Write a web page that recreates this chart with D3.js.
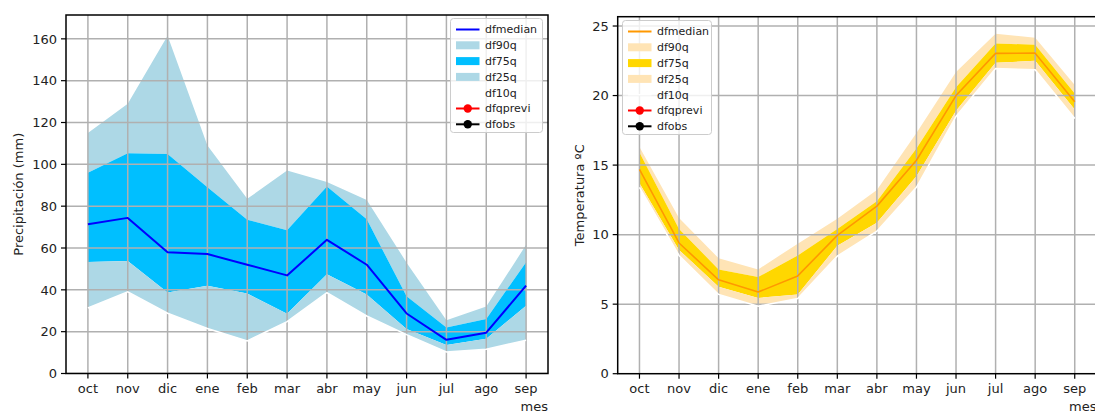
<!DOCTYPE html>
<html>
<head>
<meta charset="utf-8">
<script src="https://cdn.jsdelivr.net/npm/d3@7"></script>
<style>
  html, body { margin: 0; padding: 0; background: #fff; }
  svg { display: block; font-family: "DejaVu Sans", sans-serif; }
</style>
</head>
<body>
<svg id="chart" width="1095" height="412"></svg>
<script>
// ---- data ----
const months = ["oct","nov","dic","ene","feb","mar","abr","may","jun","jul","ago","sep"];

const precipP90    = [115, 129, 161.5, 109, 83.5, 97, 91.5, 83, 53, 25.5, 32, 61.5];
const precipP75    = [96, 105.3, 105, 89, 73.5, 68.5, 89.4, 73.7, 36.9, 22, 26.1, 53.2];
const precipMedian = [71.4, 74.4, 58, 57.1, 52, 46.9, 63.9, 52, 28.7, 16.1, 19.5, 42];
const precipP25    = [53.3, 53.8, 38.7, 42, 38.2, 28.6, 47.4, 37.8, 21.3, 13.6, 16.6, 32.4];
const precipP10    = [31.3, 39, 28.8, 21.5, 15.6, 24.8, 38.6, 27.5, 18.6, 10.3, 11.6, 15.9];
const precipTicks  = [0, 20, 40, 60, 80, 100, 120, 140, 160];

const tempP90    = [16.3, 11.2, 8.3, 7.5, 9.35, 11.15, 13.2, 17.3, 21.7, 24.45, 24.15, 20.75];
const tempP75    = [15.9, 10.4, 7.5, 6.95, 8.5, 10.4, 12.4, 16.2, 20.6, 23.75, 23.65, 20.15];
const tempMedian = [14.7, 9.4, 6.75, 5.87, 7.03, 9.95, 12.05, 15.35, 20.0, 23.03, 23.05, 19.55];
const tempP25    = [13.7, 8.9, 6.25, 5.45, 5.7, 9.2, 10.85, 14.2, 18.9, 22.35, 22.5, 19.0];
const tempP10    = [13.4, 8.5, 5.7, 4.85, 5.4, 8.45, 10.25, 13.4, 18.5, 21.95, 21.85, 18.35];
const tempTicks  = [0, 5, 10, 15, 20, 25];

const legendLabels = ["dfmedian","df90q","df75q","df25q","df10q","dfqprevi","dfobs"];

// ---- drawing ----
const svg = d3.select("#chart");

function drawPanel(cfg) {
  const g = svg.append("g");
  const x = d3.scaleLinear().domain([-0.55, 11.55]).range([cfg.left, cfg.right]);
  const y = d3.scaleLinear().domain([0, cfg.ymax]).range([cfg.bottom, cfg.top]);
  const idx = d3.range(months.length);

  const band = (lo, hi) => d3.area().x(i => x(i)).y0(i => y(lo[i])).y1(i => y(hi[i]))(idx);
  const line = arr => d3.line().x(i => x(i)).y(i => y(arr[i]))(idx);

  const clipId = "clip" + cfg.id;
  g.append("clipPath").attr("id", clipId).append("rect")
    .attr("x", cfg.left).attr("y", cfg.top)
    .attr("width", cfg.right - cfg.left).attr("height", cfg.bottom - cfg.top);
  const plot = g.append("g").attr("clip-path", `url(#${clipId})`);

  // fills
  plot.append("path").attr("d", band(cfg.p75, cfg.p90)).attr("fill", cfg.outer);
  plot.append("path").attr("d", band(cfg.p25, cfg.p75)).attr("fill", cfg.inner);
  plot.append("path").attr("d", band(cfg.p10, cfg.p25)).attr("fill", cfg.outer);

  // grid
  plot.selectAll(".vg").data(idx).enter().append("line")
    .attr("x1", i => x(i)).attr("x2", i => x(i))
    .attr("y1", cfg.top).attr("y2", cfg.bottom)
    .attr("stroke", "#b0b0b0").attr("stroke-width", 1.5);
  plot.selectAll(".hg").data(cfg.ticks).enter().append("line")
    .attr("x1", cfg.left).attr("x2", cfg.right)
    .attr("y1", d => y(d)).attr("y2", d => y(d))
    .attr("stroke", "#b0b0b0").attr("stroke-width", 1.5);

  // lines
  plot.append("path").attr("d", line(cfg.p10)).attr("fill", "none")
    .attr("stroke", "#ffffff").attr("stroke-width", 1.5);
  plot.append("path").attr("d", line(cfg.median)).attr("fill", "none")
    .attr("stroke", cfg.lineColor).attr("stroke-width", cfg.lineWidth)
    .attr("stroke-linejoin", "round");

  // frame
  g.append("rect").attr("x", cfg.left).attr("y", cfg.top)
    .attr("width", cfg.right - cfg.left).attr("height", cfg.bottom - cfg.top)
    .attr("fill", "none").attr("stroke", "#000").attr("stroke-width", 1.5);

  // x ticks
  idx.forEach(i => {
    g.append("line").attr("x1", x(i)).attr("x2", x(i))
      .attr("y1", cfg.bottom).attr("y2", cfg.bottom + 5)
      .attr("stroke", "#000").attr("stroke-width", 1.2);
    g.append("text").attr("x", x(i)).attr("y", cfg.bottom + 19.5)
      .attr("text-anchor", "middle").attr("font-size", 13).attr("fill", "#222")
      .text(months[i]);
  });
  // y ticks
  cfg.ticks.forEach(t => {
    g.append("line").attr("x1", cfg.left - 5).attr("x2", cfg.left)
      .attr("y1", y(t)).attr("y2", y(t))
      .attr("stroke", "#000").attr("stroke-width", 1.2);
    g.append("text").attr("x", cfg.left - 9).attr("y", y(t)).attr("dy", "0.36em")
      .attr("text-anchor", "end").attr("font-size", 13).attr("fill", "#222")
      .text(t);
  });

  // axis labels
  g.append("text")
    .attr("transform", `translate(${cfg.ylabelX},${(cfg.top + cfg.bottom) / 2}) rotate(-90)`)
    .attr("text-anchor", "middle").attr("dy", "0.35em")
    .attr("font-size", 13).attr("fill", "#222").text(cfg.ylabel);
  g.append("text").attr("x", cfg.right).attr("y", 410.5)
    .attr("text-anchor", "end").attr("font-size", 13).attr("fill", "#222").text("mes");

  // legend
  const L = cfg.legend;
  const lg = g.append("g");
  lg.append("rect").attr("x", L.x).attr("y", L.y).attr("width", L.w).attr("height", L.h)
    .attr("rx", 3).attr("fill", "#fff").attr("fill-opacity", 0.8)
    .attr("stroke", "#cccccc").attr("stroke-width", 1);
  legendLabels.forEach((lab, k) => {
    const cy = L.y + 11 + k * 15.8;
    const hx0 = L.x + 5.5, hx1 = L.x + 29;
    if (k === 0) {
      lg.append("line").attr("x1", hx0).attr("x2", hx1).attr("y1", cy).attr("y2", cy)
        .attr("stroke", cfg.lineColor).attr("stroke-width", 2);
    } else if (k >= 1 && k <= 3) {
      lg.append("rect").attr("x", hx0).attr("y", cy - 4).attr("width", hx1 - hx0).attr("height", 8)
        .attr("fill", k === 2 ? cfg.inner : cfg.outer);
    } else if (k === 4) {
      lg.append("line").attr("x1", hx0).attr("x2", hx1).attr("y1", cy).attr("y2", cy)
        .attr("stroke", "#fff").attr("stroke-width", 1.5);
    } else {
      const c = k === 5 ? "#ff0000" : "#000000";
      lg.append("line").attr("x1", hx0).attr("x2", hx1).attr("y1", cy).attr("y2", cy)
        .attr("stroke", c).attr("stroke-width", 2);
      lg.append("circle").attr("cx", (hx0 + hx1) / 2).attr("cy", cy).attr("r", 4.2).attr("fill", c);
    }
    lg.append("text").attr("x", L.x + 34.5).attr("y", cy).attr("dy", "0.36em")
      .attr("font-size", 11).attr("fill", "#222").text(lab);
  });
}

drawPanel({
  id: "p", left: 66, right: 548, top: 15, bottom: 373.5, ymax: 171.4,
  p90: precipP90, p75: precipP75, median: precipMedian, p25: precipP25, p10: precipP10,
  ticks: precipTicks, outer: "#add8e6", inner: "#00bfff", lineColor: "#0000ff", lineWidth: 2,
  ylabel: "Precipitación (mm)", ylabelX: 18,
  legend: { x: 450.5, y: 18.5, w: 92, h: 114 }
});

drawPanel({
  id: "t", left: 617.7, right: 1096.5, top: 16.7, bottom: 373.7, ymax: 25.67,
  p90: tempP90, p75: tempP75, median: tempMedian, p25: tempP25, p10: tempP10,
  ticks: tempTicks, outer: "#ffe4b5", inner: "#ffd700", lineColor: "#ff9800", lineWidth: 1.6,
  ylabel: "Temperatura ºC", ylabelX: 579.5,
  legend: { x: 622.5, y: 20.5, w: 89, h: 114 }
});
</script>
</body>
</html>
